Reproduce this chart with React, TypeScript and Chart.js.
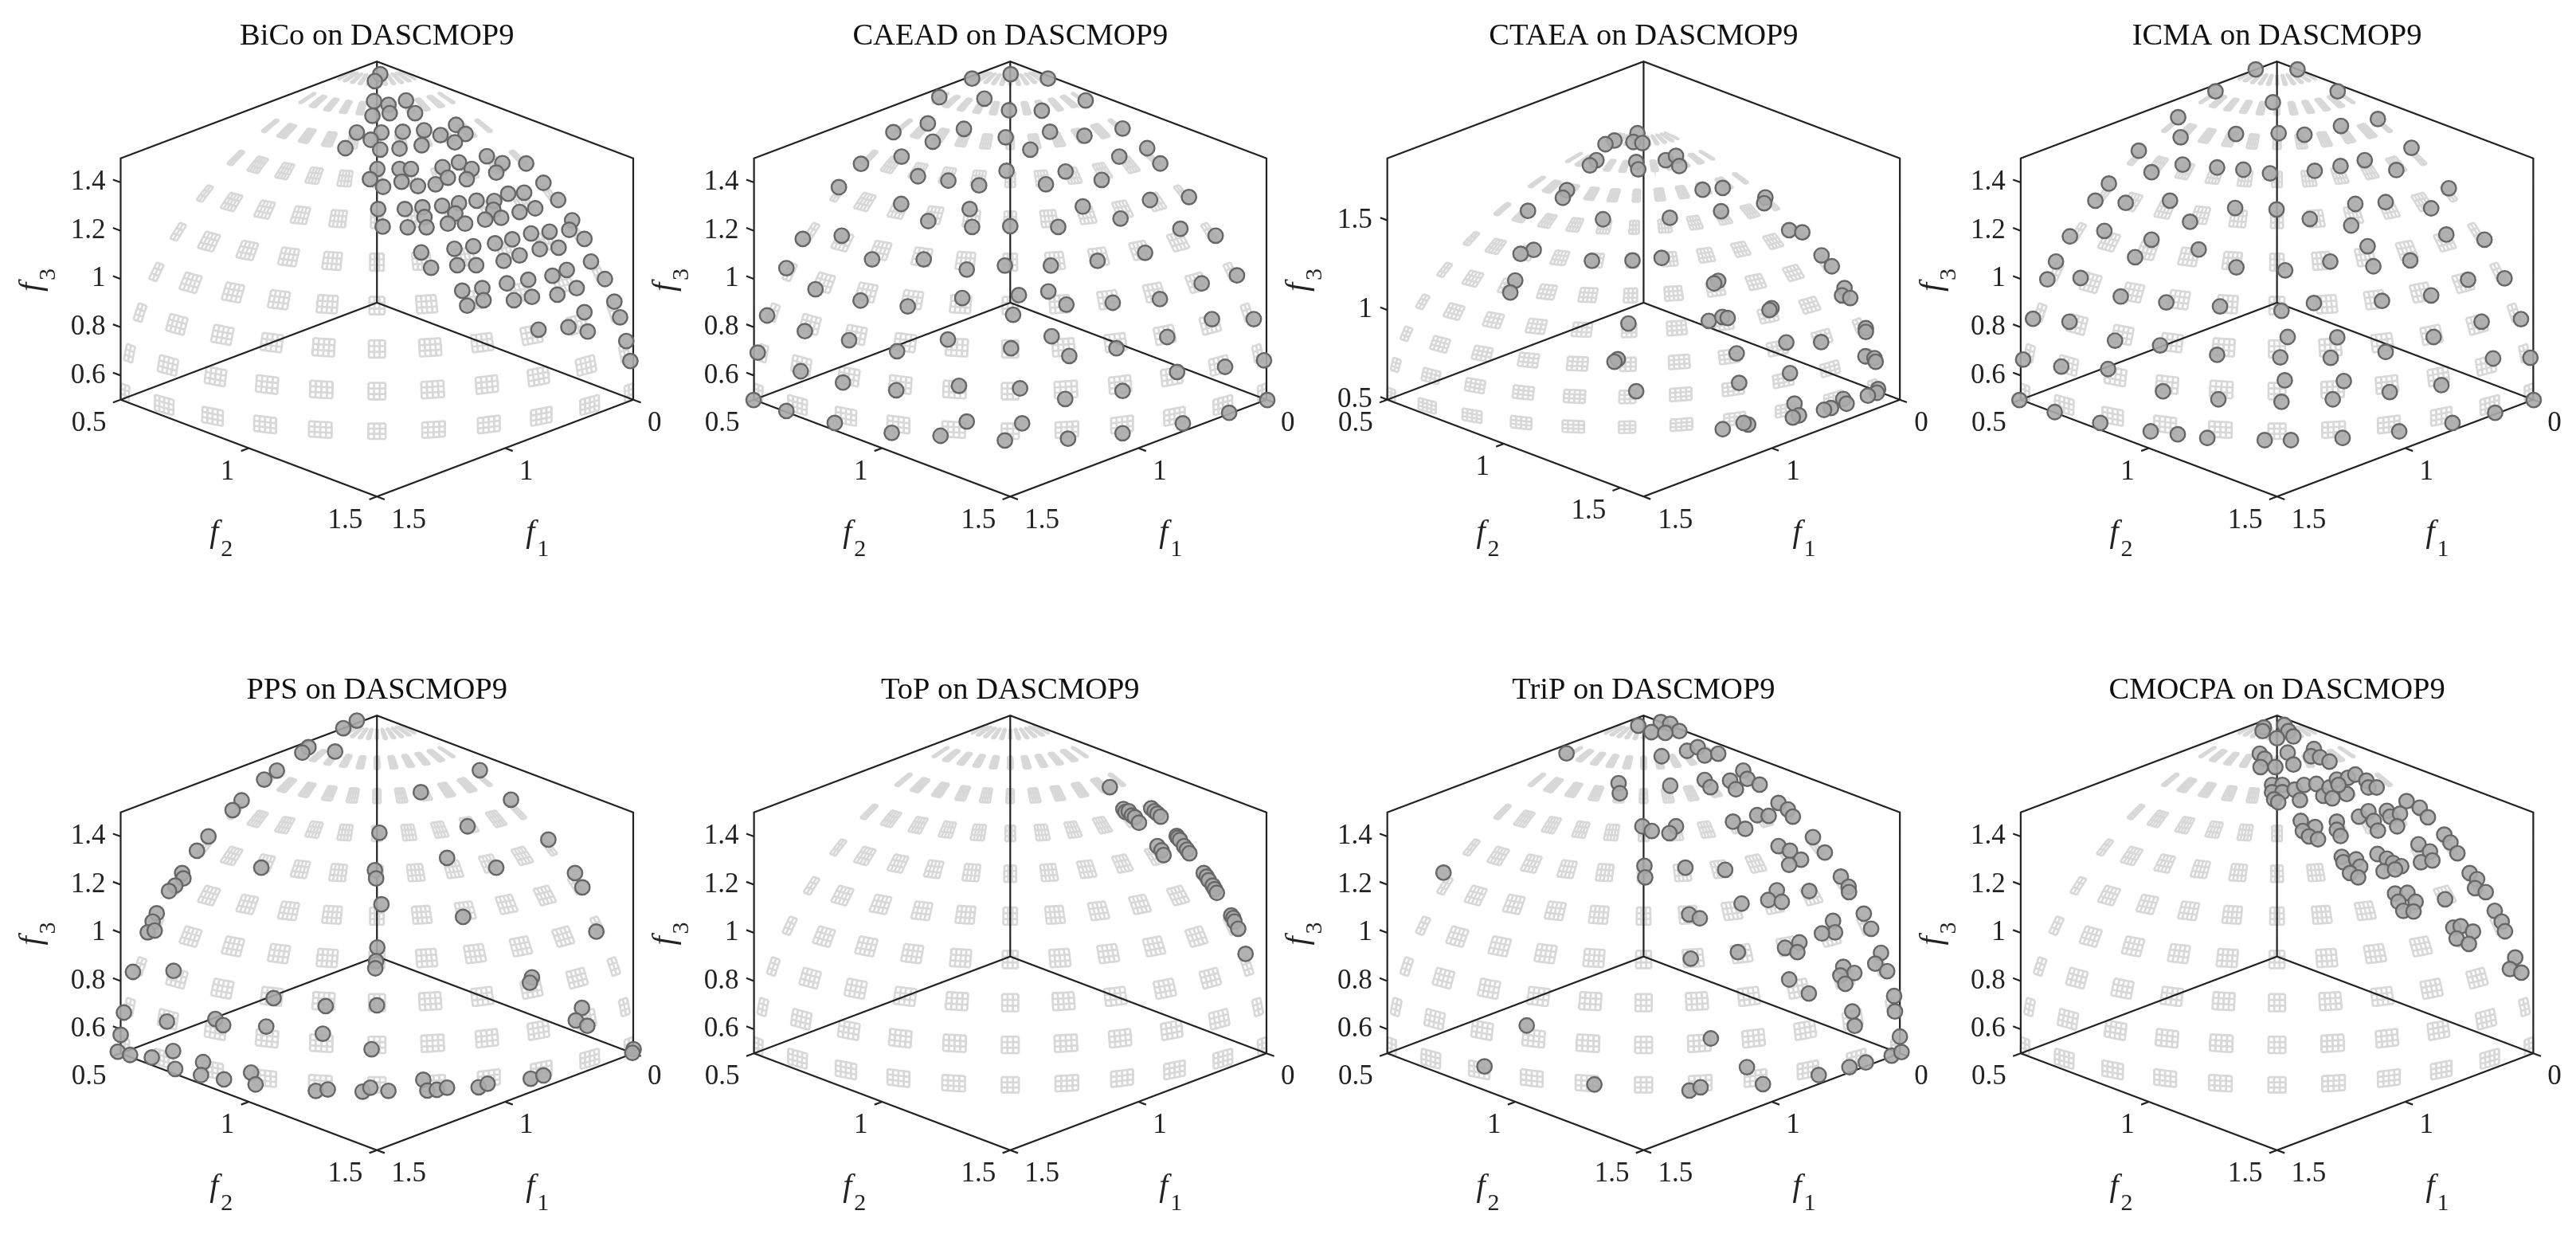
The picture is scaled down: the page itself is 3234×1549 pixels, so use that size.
import { useEffect, useRef } from 'react';
import { Chart, registerables } from 'chart.js';

Chart.register(...registerables);

// Figure is a 2x4 grid of 3D views of the same front, one panel per algorithm
const algorithms = ['BiCo', 'CAEAD', 'CTAEA', 'ICMA', 'PPS', 'ToP', 'TriP', 'CMOCPA'];
const problem = 'DASCMOP9';

const f1Ticks = [0.5, 1, 1.5];
const f2Ticks = [0.5, 1, 1.5];
const f3Ticks = [0.6, 0.8, 1, 1.2, 1.4];
const f3TicksCtaea = [0.5, 1, 1.5];

// axis length of f2 and f3 per panel (CTAEA got a wider autoscale)
const f2Span = [1, 1, 1.1, 1, 1, 1, 1, 1];
const f3Span = [1, 1, 1.346, 1, 1, 1, 1, 1];

// the true front is a sphere of radius 1 around (0.5, 0.5, 0.5), shown as feasible patches
const patchPolar = [7, 16, 25, 34, 43, 52, 61, 70, 79, 88];
const patchAzimuth = [0, 9, 18, 27, 36, 45, 54, 63, 72, 81, 90];

// Solutions, read off the view plane: [across, up]
// across is f2-f1 in 1/625 units, up is height above the back corner in 1/662 of the f3 axis
const bico = [
  [8, 627], [-5, 608], [-7, 553], [28, 543], [71, 555], [31, 520], [93, 520], [-11, 513],
  [-49, 467], [11, 467], [63, 469], [115, 473], [193, 488], [155, 460], [216, 463], [190, 440],
  [-77, 424], [-15, 447], [8, 420], [55, 423], [109, 432], [268, 402], [306, 383], [200, 385],
  [160, 372], [231, 367], [291, 357], [364, 382], [1, 367], [55, 367], [83, 367], [-17, 339],
  [15, 318], [60, 332], [100, 320], [143, 325], [173, 343], [219, 339], [406, 329], [442, 282],
  [320, 299], [359, 302], [386, 259], [348, 249], [286, 279], [284, 255], [303, 233], [264, 228],
  [243, 280], [200, 273], [159, 266], [191, 245], [173, 217], [215, 217], [3, 257], [68, 257],
  [111, 262], [116, 235], [121, 207], [75, 207], [14, 209], [476, 226], [469, 200], [506, 175],
  [421, 195], [376, 190], [443, 151], [397, 147], [330, 174], [288, 163], [348, 130], [309, 115],
  [235, 155], [189, 148], [196, 103], [242, 103], [108, 138], [132, 96], [522, 113], [556, 65],
  [463, 90], [428, 74], [487, 40], [440, 22], [369, 63], [317, 53], [378, 16], [334, 7],
  [208, 33], [257, 40], [260, 7], [220, -8], [579, 3], [593, -40], [506, -26], [467, -67],
  [514, -79], [394, -74], [608, -105], [618, -160],
];
const caead = [
  [-93, 615], [1, 627], [92, 615], [-173, 564], [-63, 560], [-3, 528], [77, 527], [184, 555],
  [-285, 468], [-201, 492], [-189, 442], [-113, 477], [-11, 454], [49, 420], [97, 469], [181, 458],
  [274, 478], [-364, 381], [-265, 401], [-225, 347], [-151, 335], [-76, 322], [-9, 362], [87, 325],
  [135, 360], [223, 337], [266, 401], [334, 424], [366, 382], [-418, 317], [-266, 271], [-200, 224],
  [-99, 257], [-93, 208], [0, 210], [117, 208], [177, 264], [269, 231], [341, 282], [436, 290],
  [-506, 175], [-411, 184], [-337, 119], [-211, 119], [-106, 91], [-13, 102], [99, 102], [213, 115],
  [329, 137], [415, 203], [501, 184], [-546, 95], [-475, 37], [-365, 6], [-250, -10], [-117, 13],
  [21, 21], [93, 31], [137, -5], [250, 0], [365, 10], [467, 53], [553, 75], [-593, -35],
  [-501, -78], [-393, -103], [-276, -133], [-152, -101], [7, -33], [2, -125], [101, -92], [144, -146],
  [259, -125], [383, -94], [492, -45], [594, -45], [-616, -137], [-511, -188], [-408, -219], [-278, -240],
  [-125, -228], [24, -235], [134, -264], [274, -242], [407, -190], [524, -176], [619, -158], [-626, -267],
  [-546, -297], [-428, -330], [-289, -357], [-170, -365], [-106, -326], [-13, -378], [29, -331], [141, -373],
  [274, -358], [421, -331], [534, -302], [627, -267],
];
const ctaea = [
  [-15, 465], [-71, 445], [-93, 435], [-25, 441], [-3, 438], [-115, 391], [-131, 377], [-18, 386],
  [-13, 366], [54, 391], [79, 403], [87, 375], [144, 310], [193, 315], [297, 289], [294, 273],
  [-187, 309], [-197, 288], [-282, 252], [-99, 229], [189, 251], [64, 233], [355, 199], [387, 193],
  [-268, 145], [-300, 134], [-126, 115], [-27, 116], [44, 123], [434, 130], [459, 100], [-313, 61],
  [-325, 28], [182, 60], [172, 53], [490, 40], [484, 20], [504, 13], [-37, -57], [312, -15],
  [307, -20], [159, -50], [192, -39], [205, -42], [542, -70], [542, -80], [-63, -155], [-71, -162],
  [348, -109], [433, -108], [227, -139], [541, -147], [563, -152], [566, -162], [357, -193], [233, -220],
  [-18, -243], [572, -237], [569, -247], [547, -255], [487, -264], [495, -277], [457, -289], [440, -294],
  [368, -277], [379, -309], [364, -315], [255, -334], [244, -330], [193, -347],
];
const icma = [
  [-52, 640], [50, 640], [-150, 580], [148, 580], [-10, 550], [-241, 509], [-235, 454], [-100, 463],
  [4, 465], [67, 461], [156, 485], [246, 504], [-337, 417], [-306, 358], [-230, 379], [-146, 371],
  [-82, 365], [-17, 355], [92, 362], [155, 375], [214, 391], [291, 364], [328, 425], [-410, 327],
  [-443, 280], [-369, 274], [-261, 280], [-212, 222], [-102, 260], [-1, 256], [80, 230], [191, 271],
  [265, 276], [181, 212], [376, 259], [419, 314], [-505, 182], [-421, 197], [-306, 173], [-346, 125],
  [-191, 146], [-99, 97], [20, 89], [130, 113], [221, 155], [235, 100], [325, 116], [413, 187],
  [506, 173], [-539, 113], [-560, 64], [-479, 68], [-381, 17], [-270, 1], [-139, -10], [11, -22],
  [90, -1], [256, 5], [376, 20], [466, 63], [555, 67], [-595, -44], [-506, -52], [-395, -104],
  [-285, -117], [-146, -143], [26, -94], [8, -150], [147, -95], [131, -151], [265, -135], [382, -94],
  [499, -52], [595, -45], [-619, -156], [-526, -175], [-412, -182], [-278, -243], [-143, -265], [19, -213],
  [11, -272], [163, -215], [136, -265], [275, -245], [401, -226], [527, -153], [618, -151], [-628, -267],
  [-542, -300], [-431, -330], [-308, -353], [-242, -361], [-170, -371], [-30, -377], [34, -377], [160, -371],
  [298, -353], [428, -330], [532, -302], [626, -267],
];
const pps = [
  [-49, 656], [-82, 635], [-167, 582], [-182, 567], [-102, 570], [-244, 517], [-275, 492], [251, 518],
  [107, 457], [-330, 434], [-352, 407], [327, 436], [-411, 334], [-439, 294], [221, 362], [6, 344],
  [418, 325], [-475, 232], [-472, 217], [-492, 197], [-507, 182], [-282, 247], [171, 274], [291, 247],
  [-5, 240], [-2, 217], [483, 232], [501, 192], [-537, 120], [-547, 97], [-559, 67], [-542, 72],
  [11, 145], [210, 110], [535, 69], [1, 25], [-2, -13], [-4, -33], [-595, -43], [-496, -40],
  [378, -58], [373, -73], [-252, -116], [-125, -138], [0, -136], [500, -143], [-617, -156], [-512, -181],
  [-394, -174], [-375, -191], [-270, -195], [485, -178], [513, -193], [-625, -218], [-132, -215], [-13, -258],
  [626, -258], [623, -268], [-632, -265], [-602, -274], [-549, -281], [-497, -263], [-492, -313], [-424, -294],
  [-429, -330], [-373, -342], [-307, -323], [-296, -356], [-149, -374], [-120, -370], [-35, -376], [-16, -365],
  [28, -374], [113, -343], [123, -373], [146, -371], [171, -365], [248, -364], [270, -354], [375, -340],
  [406, -331],
];
const top = [
  [243, 471], [276, 410], [281, 402], [289, 404], [297, 392], [304, 387], [314, 372], [344, 412],
  [352, 404], [359, 397], [367, 389], [406, 335], [409, 330], [414, 324], [424, 307], [431, 297],
  [437, 287], [359, 307], [369, 295], [374, 282], [472, 232], [479, 222], [484, 212], [494, 197],
  [499, 187], [504, 177], [539, 114], [544, 107], [547, 97], [556, 77], [574, 7],
];
const trip = [
  [-13, 642], [42, 652], [65, 647], [87, 627], [19, 624], [53, 622], [-188, 565], [44, 557],
  [106, 572], [132, 582], [149, 559], [182, 564], [243, 517], [149, 491], [163, 471], [211, 489],
  [253, 494], [225, 465], [283, 478], [-61, 482], [-58, 454], [65, 475], [329, 427], [352, 409],
  [364, 389], [277, 393], [305, 391], [218, 375], [248, 355], [-3, 362], [20, 349], [79, 362],
  [63, 343], [413, 332], [442, 289], [329, 307], [357, 294], [384, 269], [355, 255], [2, 252],
  [4, 220], [102, 247], [199, 241], [-488, 233], [481, 222], [500, 194], [501, 179], [325, 184],
  [304, 157], [337, 152], [404, 182], [239, 147], [537, 119], [555, 77], [462, 99], [467, 67],
  [435, 64], [111, 117], [137, 106], [579, 10], [565, -20], [594, -41], [380, 39], [345, 24],
  [375, 12], [115, -6], [230, 12], [487, -29], [514, -46], [480, -53], [492, -76], [355, -64],
  [403, -103], [611, -110], [613, -153], [509, -153], [515, -193], [-285, -192], [625, -223], [164, -228],
  [-388, -306], [252, -308], [-120, -356], [112, -373], [139, -364], [291, -355], [427, -330], [502, -308],
  [542, -295], [605, -276], [629, -266],
];
const cmocpa = [
  [-32, 637], [-35, 627], [18, 644], [28, 627], [40, 612], [0, 607], [-42, 564], [-30, 550],
  [-40, 527], [-4, 527], [26, 567], [40, 534], [90, 577], [83, 557], [105, 554], [128, 542],
  [-12, 477], [13, 477], [-12, 457], [13, 457], [-7, 437], [3, 429], [43, 464], [66, 477],
  [56, 435], [96, 480], [113, 447], [128, 470], [135, 440], [170, 452], [146, 492], [173, 497],
  [191, 506], [218, 489], [223, 470], [243, 470], [150, 477], [316, 432], [348, 414], [368, 387],
  [58, 377], [93, 360], [63, 349], [78, 334], [100, 326], [146, 375], [146, 352], [155, 335],
  [200, 389], [223, 404], [236, 377], [246, 350], [268, 405], [276, 389], [300, 397], [293, 362],
  [408, 339], [423, 317], [440, 287], [345, 312], [373, 292], [351, 262], [379, 267], [158, 277],
  [162, 262], [193, 270], [203, 250], [178, 232], [198, 220], [245, 285], [268, 272], [283, 260],
  [303, 251], [260, 237], [288, 242], [470, 232], [488, 215], [483, 190], [509, 179], [288, 175],
  [318, 177], [338, 152], [296, 152], [308, 127], [333, 125], [410, 159], [531, 127], [548, 97],
  [556, 70], [430, 80], [448, 84], [478, 69], [438, 50], [468, 35], [581, -3], [568, -35], [596, -45],
];
const solutions = [bico, caead, ctaea, icma, pps, top, trip, cmocpa];

const PAGE_W = 3234;
const PAGE_H = 1549;
const HALF_W = 331; // px per unit of the view's horizontal coordinate
const READ_X = 625;
const READ_Y = [662, 670];

const FONT = '"Liberation Serif"';
const INK = '#222222';

// column / row placement of the panels, in page pixels
// canvases overlap a little, the right edge is what cuts off the f1 "0.5" label
const colCentre = [474.9, 1269.9, 2065.1, 2860.3];
const colLeft = [0, 800, 1590, 2385];
const colRight = [830, 1625, 2420, 3215];
const rows = [
  { top: 0, height: 760, back: 380, unit: 312.4, slope: 0.4017, titleY: 56 },
  { top: 760, height: 789, back: 442, unit: 311.5, slope: 0.4021, titleY: 116.7 },
];

const gap = { x: NaN, y: NaN };

function Panel({ index }: { index: number }) {
  const canvasRef = useRef<HTMLCanvasElement>(null);
  const col = index % 4;
  const row = rows[Math.floor(index / 4)];
  const left = colLeft[col];
  const width = colRight[col] - left;

  useEffect(() => {
    const canvas = canvasRef.current;
    if (!canvas) return;

    const centre = colCentre[col] - left;
    const s2 = f2Span[index];
    const s3 = f3Span[index];
    const readY = READ_Y[Math.floor(index / 4)];

    // 3D -> view plane, the chart's linear scales do the rest
    const project = (f1: number, f2: number, f3: number) => {
      const u = f1 - 0.5;
      const v = (f2 - 0.5) / s2;
      const w = (f3 - 0.5) / s3;
      return { x: v - u, y: w - row.slope * (u + v) };
    };

    // feasible patches on the sphere, each one a bit of the same angular mesh
    const MESH_A = 90 / 99;
    const MESH_P = 1.2;
    const rad = Math.PI / 180;
    const sphere = (polar: number, azimuth: number) =>
      project(
        0.5 + Math.sin(polar * rad) * Math.cos(azimuth * rad),
        0.5 + Math.sin(polar * rad) * Math.sin(azimuth * rad),
        0.5 + Math.cos(polar * rad)
      );
    const wire: { x: number; y: number }[] = [];
    patchPolar.forEach((polar) => {
      patchAzimuth.forEach((azimuth) => {
        const halfA = azimuth === 45 ? 1.5 * MESH_A : 2 * MESH_A;
        const a0 = Math.max(0, azimuth - halfA);
        const a1 = Math.min(90, azimuth + halfA);
        const p0 = polar - 1.5 * MESH_P;
        const nA = Math.round((a1 - a0) / MESH_A);
        for (let j = 0; j <= 3; j++) {
          for (let i = 0; i <= nA; i++) wire.push(sphere(p0 + j * MESH_P, a0 + i * MESH_A));
          wire.push(gap);
        }
        for (let i = 0; i <= nA; i++) {
          for (let j = 0; j <= 3; j++) wire.push(sphere(p0 + j * MESH_P, a0 + i * MESH_A));
          wire.push(gap);
        }
      });
    });

    // box edges and tick marks
    const zTop = 0.5 + s3;
    const fMax = 0.5 + s2;
    const edges = [
      [[1.5, 0.5, 0.5], [0.5, 0.5, 0.5], [0.5, fMax, 0.5], [1.5, fMax, 0.5], [1.5, 0.5, 0.5], [1.5, 0.5, zTop], [0.5, 0.5, zTop], [0.5, fMax, zTop], [0.5, fMax, 0.5]],
      [[0.5, 0.5, 0.5], [0.5, 0.5, zTop]],
    ];
    const zTicks = index === 2 ? f3TicksCtaea : f3Ticks;
    const TICK = 0.03;
    zTicks.forEach((t) => edges.push([[1.5, 0.5, t], [1.5, 0.5 - TICK, t]]));
    f2Ticks.forEach((t) => edges.push([[1.5, t, 0.5], [1.5 + TICK, t, 0.5]]));
    f1Ticks.forEach((t) => edges.push([[t, fMax, 0.5], [t, fMax + TICK, 0.5]]));
    const frame: { x: number; y: number }[] = [];
    edges.forEach((line) => {
      line.forEach(([a, b, c]) => frame.push(project(a, b, c)));
      frame.push(gap);
    });

    const marks = solutions[index].map(([across, up]) => ({ x: across / READ_X, y: up / readY }));

    const axisText = {
      id: 'axisText',
      afterDraw(chart: Chart) {
        const ctx = chart.ctx;
        const sx = chart.scales.x;
        const sy = chart.scales.y;
        const at = (f1: number, f2: number, f3: number) => {
          const p = project(f1, f2, f3);
          return { x: sx.getPixelForValue(p.x), y: sy.getPixelForValue(p.y) };
        };
        const cx = sx.getPixelForValue(0);
        const backY = sy.getPixelForValue(0);
        const bottomY = sy.getPixelForValue(-2 * row.slope);

        ctx.save();
        ctx.fillStyle = '#111';
        ctx.font = `38.5px ${FONT}`;
        ctx.textAlign = 'center';
        ctx.textBaseline = 'alphabetic';
        ctx.fillText(`${algorithms[index]} on ${problem}`, cx, row.titleY);

        ctx.fillStyle = INK;
        ctx.font = `35px ${FONT}`;
        ctx.textBaseline = 'middle';
        ctx.textAlign = 'right';
        zTicks.forEach((t) => {
          const p = at(1.5, 0.5, t);
          ctx.fillText(String(t), p.x - 19, p.y);
        });
        f2Ticks.forEach((t) => {
          const p = at(1.5, t, 0.5);
          ctx.fillText(String(t), p.x - 18, p.y + 30);
        });
        ctx.textAlign = 'left';
        f1Ticks.forEach((t) => {
          const p = at(t, fMax, 0.5);
          ctx.fillText(String(t), p.x + 18, p.y + 30);
        });

        ctx.textBaseline = 'alphabetic';
        const symbol = (x: number, y: number, subX: number, subY: number, sub: string) => {
          ctx.font = `italic 40px ${FONT}`;
          ctx.fillText('f', x, y);
          ctx.font = `30px ${FONT}`;
          ctx.fillText(sub, subX, subY);
        };
        symbol(cx - 210, bottomY + 57, cx - 196, bottomY + 75, '2');
        symbol(cx + 187, bottomY + 57, cx + 201, bottomY + 75, '1');

        // f3 runs up the left side
        ctx.translate(cx - 422, backY - 14);
        ctx.rotate(-Math.PI / 2);
        symbol(0, 0, 14, 18, '3');
        ctx.restore();
      },
    };

    const chart = new Chart(canvas, {
      type: 'scatter',
      data: {
        datasets: [
          {
            data: marks,
            pointRadius: 9.2,
            pointBorderWidth: 2.4,
            pointBackgroundColor: 'rgba(170,170,170,0.9)',
            pointBorderColor: '#666666',
            clip: false,
          },
          {
            data: frame,
            showLine: true,
            pointRadius: 0,
            borderColor: INK,
            borderWidth: 2.2,
            spanGaps: false,
            clip: false,
          },
          {
            data: wire,
            showLine: true,
            pointRadius: 0,
            borderColor: '#d8d8d8',
            borderWidth: 2.7,
            spanGaps: false,
            clip: false,
          },
        ],
      },
      options: {
        responsive: false,
        animation: false,
        devicePixelRatio: 1,
        events: [],
        layout: { padding: 0 },
        plugins: { legend: { display: false }, tooltip: { enabled: false } },
        scales: {
          x: {
            type: 'linear',
            display: false,
            min: -centre / HALF_W,
            max: (width - centre) / HALF_W,
          },
          y: {
            type: 'linear',
            display: false,
            min: (row.back - row.height) / row.unit,
            max: row.back / row.unit,
          },
        },
      },
      plugins: [axisText],
    });

    return () => chart.destroy();
  }, []);

  return (
    <canvas
      ref={canvasRef}
      width={width}
      height={row.height}
      style={{ position: 'absolute', left, top: row.top, width, height: row.height, filter: 'blur(0.6px)' }}
    />
  );
}

export default function App() {
  return (
    <div style={{ position: 'absolute', left: 0, top: 0, width: PAGE_W, height: PAGE_H, background: '#fff', overflow: 'hidden' }}>
      {algorithms.map((name, i) => (
        <Panel key={name} index={i} />
      ))}
    </div>
  );
}
